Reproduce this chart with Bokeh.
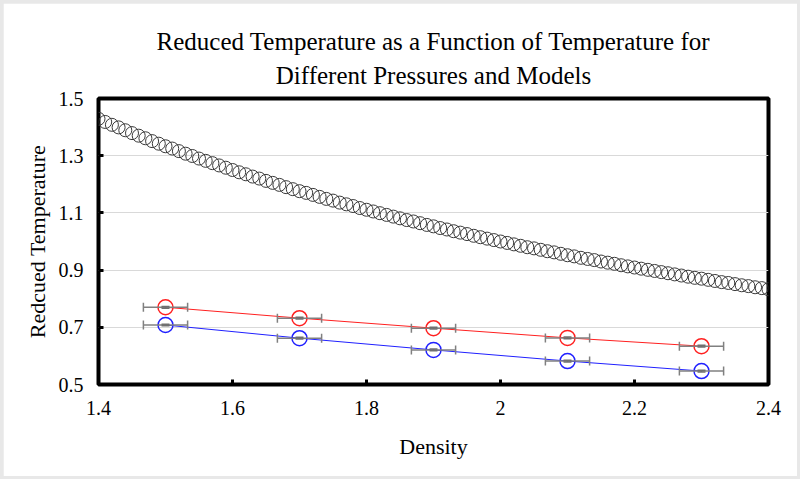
from bokeh.plotting import figure
from bokeh.models import Whisker, TeeHead, FixedTicker, Title, ColumnDataSource
from bokeh.layouts import column
from bokeh.embed import file_html
from bokeh.resources import INLINE

# Reference curve: reduced temperature vs density
density_ref = [
    1.40, 1.41, 1.42, 1.43, 1.44, 1.45, 1.46, 1.47, 1.48, 1.49,
    1.50, 1.51, 1.52, 1.53, 1.54, 1.55, 1.56, 1.57, 1.58, 1.59,
    1.60, 1.61, 1.62, 1.63, 1.64, 1.65, 1.66, 1.67, 1.68, 1.69,
    1.70, 1.71, 1.72, 1.73, 1.74, 1.75, 1.76, 1.77, 1.78, 1.79,
    1.80, 1.81, 1.82, 1.83, 1.84, 1.85, 1.86, 1.87, 1.88, 1.89,
    1.90, 1.91, 1.92, 1.93, 1.94, 1.95, 1.96, 1.97, 1.98, 1.99,
    2.00, 2.01, 2.02, 2.03, 2.04, 2.05, 2.06, 2.07, 2.08, 2.09,
    2.10, 2.11, 2.12, 2.13, 2.14, 2.15, 2.16, 2.17, 2.18, 2.19,
    2.20, 2.21, 2.22, 2.23, 2.24, 2.25, 2.26, 2.27, 2.28, 2.29,
    2.30, 2.31, 2.32, 2.33, 2.34, 2.35, 2.36, 2.37, 2.38, 2.39,
    2.40,
]
temp_ref = [
    1.429, 1.418, 1.408, 1.399, 1.389, 1.379, 1.370, 1.361, 1.351, 1.342,
    1.333, 1.325, 1.316, 1.307, 1.299, 1.290, 1.282, 1.274, 1.266, 1.258,
    1.250, 1.242, 1.235, 1.227, 1.220, 1.212, 1.205, 1.198, 1.190, 1.183,
    1.176, 1.170, 1.163, 1.156, 1.149, 1.143, 1.136, 1.130, 1.124, 1.117,
    1.111, 1.105, 1.099, 1.093, 1.087, 1.081, 1.075, 1.070, 1.064, 1.058,
    1.053, 1.047, 1.042, 1.036, 1.031, 1.026, 1.020, 1.015, 1.010, 1.005,
    1.000, 0.995, 0.990, 0.985, 0.980, 0.976, 0.971, 0.966, 0.962, 0.957,
    0.952, 0.948, 0.943, 0.939, 0.935, 0.930, 0.926, 0.922, 0.917, 0.913,
    0.909, 0.905, 0.901, 0.897, 0.893, 0.889, 0.885, 0.881, 0.877, 0.873,
    0.870, 0.866, 0.862, 0.858, 0.855, 0.851, 0.847, 0.844, 0.840, 0.837,
    0.833,
]

# Simulation points for the two models
density_sim = [1.5, 1.7, 1.9, 2.1, 2.3]
temp_red = [0.770, 0.732, 0.697, 0.663, 0.634]
temp_blue = [0.708, 0.662, 0.621, 0.582, 0.547]
density_err = [0.033, 0.033, 0.033, 0.033, 0.033]
temp_err = [0.003, 0.003, 0.003, 0.003, 0.003]

x_ticks = [1.4, 1.6, 1.8, 2.0, 2.2, 2.4]
y_ticks = [0.5, 0.7, 0.9, 1.1, 1.3, 1.5]

FONT = "Liberation Serif"

p = figure(
    width=794, height=473,
    x_range=(1.4, 2.4), y_range=(0.5, 1.5),
    output_backend="svg", toolbar_location=None,
    min_border_left=95, min_border_right=29,
    min_border_top=95, min_border_bottom=92,
    background_fill_color="white", border_fill_color="white",
)
p.title.visible = False

p.add_layout(Title(text="Different Pressures and Models", align="center",
                   text_font=FONT, text_font_size="25px", text_font_style="normal",
                   text_color="black", standoff=19), "above")
p.add_layout(Title(text="Reduced Temperature as a Function of Temperature for", align="center",
                   text_font=FONT, text_font_size="25px", text_font_style="normal",
                   text_color="black", standoff=-8), "above")

p.outline_line_color = "black"
p.outline_line_width = 4

p.xgrid.visible = False
p.ygrid.grid_line_color = "#d9d9d9"
p.ygrid.grid_line_width = 1

for ax in (p.xaxis[0], p.yaxis[0]):
    ax.axis_line_color = None
    ax.major_tick_in = 5
    ax.major_tick_out = 0
    ax.major_tick_line_width = 3
    ax.major_tick_line_color = "black"
    ax.minor_tick_line_color = None
    ax.major_label_text_font = FONT
    ax.major_label_text_font_size = "20px"
    ax.major_label_text_color = "black"
    ax.axis_label_text_font = FONT
    ax.axis_label_text_font_size = "22px"
    ax.axis_label_text_font_style = "normal"
    ax.axis_label_text_color = "black"

p.xaxis.ticker = FixedTicker(ticks=x_ticks)
p.yaxis.ticker = FixedTicker(ticks=y_ticks)
p.xaxis.major_label_overrides = {2: "2"}
p.xaxis.axis_label = "Density"
p.yaxis.axis_label = "Redcued Temperature"
p.xaxis.major_label_standoff = 16
p.yaxis.major_label_standoff = 15
p.xaxis.axis_label_standoff = 16
p.yaxis.axis_label_standoff = 6

# Reference curve as open circles
p.scatter(density_ref, temp_ref, marker="circle", size=13,
          fill_color=None, line_color="#3a3a3a", line_width=1)

# Model series with connecting lines and error bars
red_src = ColumnDataSource(dict(
    x=density_sim, y=temp_red,
    xl=[d - e for d, e in zip(density_sim, density_err)],
    xu=[d + e for d, e in zip(density_sim, density_err)],
    yl=[t - e for t, e in zip(temp_red, temp_err)],
    yu=[t + e for t, e in zip(temp_red, temp_err)],
))
blue_src = ColumnDataSource(dict(
    x=density_sim, y=temp_blue,
    xl=[d - e for d, e in zip(density_sim, density_err)],
    xu=[d + e for d, e in zip(density_sim, density_err)],
    yl=[t - e for t, e in zip(temp_blue, temp_err)],
    yu=[t + e for t, e in zip(temp_blue, temp_err)],
))

for src, col in ((red_src, "#ff2020"), (blue_src, "#2020ff")):
    p.line("x", "y", source=src, line_color=col, line_width=1)
    p.scatter("x", "y", source=src, marker="circle", size=15,
              fill_color=None, line_color=col, line_width=1.5)
    p.add_layout(Whisker(source=src, base="y", lower="xl", upper="xu",
                         dimension="width", line_color="#808080", line_width=1.5,
                         level="overlay",
                         lower_head=TeeHead(size=9, line_color="#808080", line_width=1.5),
                         upper_head=TeeHead(size=9, line_color="#808080", line_width=1.5)))
    p.add_layout(Whisker(source=src, base="x", lower="yl", upper="yu",
                         dimension="height", line_color="#707070", line_width=1.5,
                         level="overlay",
                         lower_head=TeeHead(size=8, line_color="#707070", line_width=1.5),
                         upper_head=TeeHead(size=8, line_color="#707070", line_width=1.5)))

layout = column(p, styles={"background-color": "#e8e8e8", "padding": "3px"})

open("out.html", "w").write(file_html(layout, INLINE))
